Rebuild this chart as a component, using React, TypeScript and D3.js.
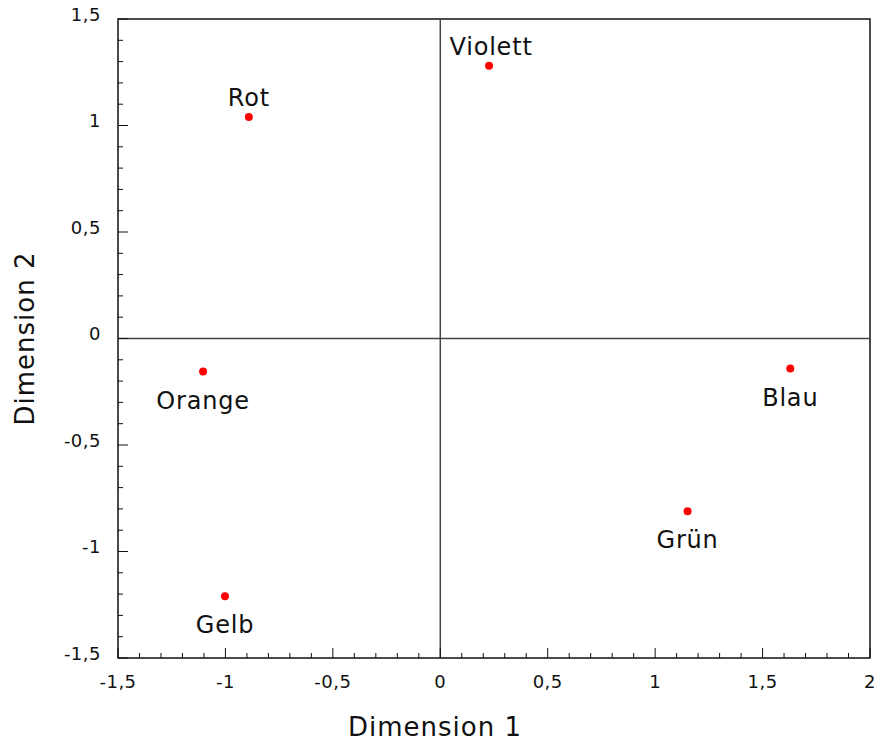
import React from "react";
import * as d3 from "d3";

const colorNames = ["Violett", "Rot", "Orange", "Gelb", "Grün", "Blau"];
const dim1Values = [0.227, -0.891, -1.104, -1.002, 1.151, 1.629];
const dim2Values = [1.28, 1.04, -0.155, -1.21, -0.811, -0.141];
const labelAbove = [true, true, false, false, false, false];

const xMajorTicks = [-1.5, -1, -0.5, 0, 0.5, 1, 1.5, 2];
const yMajorTicks = [-1.5, -1, -0.5, 0, 0.5, 1, 1.5];

const W = 875;
const H = 742;
const margin = { left: 118, right: 5, top: 19, bottom: 84 };
const FONT = "'DejaVu Sans', Verdana, sans-serif";

const fmt = (v: number) => String(v).replace(".", ",");

export default function App() {
  const x = d3.scaleLinear().domain([-1.5, 2]).range([margin.left, W - margin.right]);
  const y = d3.scaleLinear().domain([-1.5, 1.5]).range([H - margin.bottom, margin.top]);
  const [x0, x1] = x.range();
  const [y0, y1] = y.range();

  const isHalf = (v: number) => Math.abs(v * 2 - Math.round(v * 2)) < 1e-6;
  const xMinor = d3.range(-15, 21).map((v) => v / 10).filter((v) => !isHalf(v));
  const yMinor = d3.range(-15, 16).map((v) => v / 10).filter((v) => !isHalf(v));

  return (
    <svg width={W} height={H} style={{ position: "absolute", left: 0, top: 0, background: "#fff" }}>
      {/* frame */}
      <rect x={x0} y={y1} width={x1 - x0} height={y0 - y1} fill="none" stroke="#111" strokeWidth={1.5} />
      {/* zero lines */}
      <line x1={x(0)} x2={x(0)} y1={y1} y2={y0} stroke="#444" strokeWidth={1.5} />
      <line x1={x0} x2={x1} y1={y(0)} y2={y(0)} stroke="#444" strokeWidth={1.5} />

      {/* x ticks */}
      {xMajorTicks.map((t) => (
        <g key={"xt" + t}>
          <line x1={x(t)} x2={x(t)} y1={y0} y2={y0 - 10} stroke="#111" strokeWidth={1} />
          <text x={x(t)} y={y0 + 30} textAnchor="middle" fontFamily={FONT} fontSize={18} letterSpacing={0.5} fill="#111">
            {fmt(t)}
          </text>
        </g>
      ))}
      {xMinor.map((t) => (
        <line key={"xm" + t} x1={x(t)} x2={x(t)} y1={y0} y2={y0 - 5} stroke="#111" strokeWidth={1} />
      ))}

      {/* y ticks */}
      {yMajorTicks.map((t) => (
        <g key={"yt" + t}>
          <line x1={x0} x2={x0 + 10} y1={y(t)} y2={y(t)} stroke="#111" strokeWidth={1} />
          <text x={x0 - 17} y={y(t)} dy="0.1em" textAnchor="end" fontFamily={FONT} fontSize={18} letterSpacing={0.5} fill="#111">
            {fmt(t)}
          </text>
        </g>
      ))}
      {yMinor.map((t) => (
        <line key={"ym" + t} x1={x0} x2={x0 + 5} y1={y(t)} y2={y(t)} stroke="#111" strokeWidth={1} />
      ))}

      {/* axis titles */}
      <text x={(x0 + x1) / 2 - 59} y={736} textAnchor="middle" fontFamily={FONT} fontSize={26} letterSpacing={1} fill="#111">
        Dimension 1
      </text>
      <text
        transform={`translate(34, ${(y0 + y1) / 2}) rotate(-90)`}
        textAnchor="middle"
        fontFamily={FONT}
        fontSize={26}
        letterSpacing={1}
        fill="#111"
      >
        Dimension 2
      </text>

      {/* points and labels */}
      {colorNames.map((name, i) => {
        const px = x(dim1Values[i]);
        const py = y(dim2Values[i]);
        return (
          <g key={name}>
            <circle cx={px} cy={py} r={4} fill="#ff0000" />
            <text
              x={px + (i === 0 ? 2 : 0)}
              y={labelAbove[i] ? py - 11 : py + 37}
              textAnchor="middle"
              fontFamily={FONT}
              fontSize={24}
              letterSpacing={0.8}
              fill="#111"
            >
              {name}
            </text>
          </g>
        );
      })}
    </svg>
  );
}
